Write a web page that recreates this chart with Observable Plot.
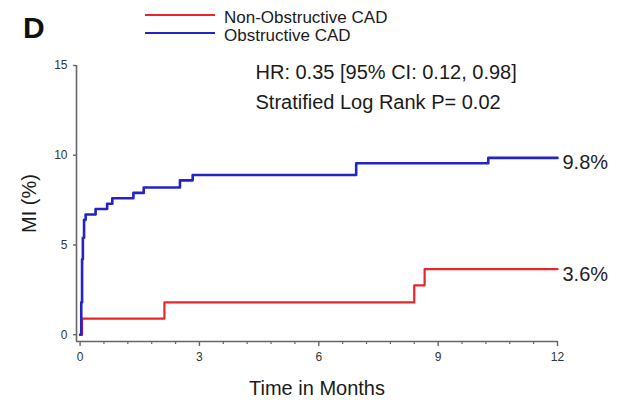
<!DOCTYPE html>
<html><head><meta charset="utf-8">
<script src="https://cdn.jsdelivr.net/npm/d3@7"></script>
<script src="https://cdn.jsdelivr.net/npm/@observablehq/plot@0.6"></script>
<style>
body{margin:0;background:#fff;font-family:"Liberation Sans",Arial,sans-serif;}
#wrap{position:relative;width:617px;height:400px;overflow:hidden;background:#fff;}
#wrap svg{position:absolute;left:0;top:0;}
.ov{position:absolute;white-space:nowrap;color:#1a1a1a;}
.sw{position:absolute;height:0;}
</style></head><body><div id="wrap"></div>
<script>
// Series names and colours
const seriesNames = ["Non-Obstructive CAD", "Obstructive CAD"];
const seriesColors = ["#e8262a", "#2323c8"];

// Obstructive CAD cumulative MI (%) by month
const obstructiveTime  = [0, 0.03, 0.05, 0.07, 0.10, 0.14, 0.39, 0.68, 0.81, 1.34, 1.60, 2.51, 2.83, 6.94, 10.26, 12];
const obstructiveValue = [0, 1.8,  4.2,  5.4,  6.4,  6.7,  7.0,  7.3,  7.6,  7.9,  8.2,  8.6,  8.9,  9.55, 9.85, 9.85];

// Non-obstructive CAD cumulative MI (%) by month
const nonObstructiveTime  = [0, 0.05, 2.12, 8.40, 8.66, 12];
const nonObstructiveValue = [0, 0.9,  1.8,  2.75, 3.65, 3.65];

// End labels
const endLabels = ["3.6%", "9.8%"];

// Axis ticks
const xMajorTicks = [0, 3, 6, 9, 12];
const xMinorTicks = [0.6, 1.2, 1.8, 2.4, 3.6, 4.2, 4.8, 5.4, 6.6, 7.2, 7.8, 8.4, 9.6, 10.2, 10.8, 11.4];
const yTicks = [0, 5, 10, 15];

// Text
const panelLetter = "D";
const hrText = "HR: 0.35 [95% CI: 0.12, 0.98]";
const pText = "Stratified Log Rank P= 0.02";
const xLabel = "Time in Months";
const yLabel = "MI (%)";

const xDomain = [-0.09, 12];
const yDomain = [-0.38, 15];

const rows = [];
nonObstructiveTime.forEach((t, i) => rows.push({series: seriesNames[0], t, v: nonObstructiveValue[i]}));
obstructiveTime.forEach((t, i) => rows.push({series: seriesNames[1], t, v: obstructiveValue[i]}));

const ends = [
  {series: seriesNames[0], t: nonObstructiveTime[nonObstructiveTime.length - 1], v: nonObstructiveValue[nonObstructiveValue.length - 1], label: endLabels[0]},
  {series: seriesNames[1], t: obstructiveTime[obstructiveTime.length - 1], v: obstructiveValue[obstructiveValue.length - 1], label: endLabels[1]}
];

const axisColor = "#666";
const font = "'Liberation Sans', Arial, sans-serif";

const chart = Plot.plot({
  width: 617,
  height: 400,
  marginLeft: 76,
  marginRight: 60,
  marginTop: 65,
  marginBottom: 59,
  style: {fontFamily: font, fontSize: "12px", color: "#333", background: "transparent"},
  x: {domain: xDomain, axis: null},
  y: {domain: yDomain, axis: null},
  color: {domain: seriesNames, range: seriesColors},
  marks: [
    Plot.ruleY([yDomain[0]], {stroke: axisColor, strokeWidth: 1.6}),
    Plot.ruleX([xDomain[0]], {stroke: axisColor, strokeWidth: 1.6}),
    Plot.axisX({ticks: xMajorTicks, tickSize: 5, tickPadding: 6, stroke: axisColor, strokeWidth: 1.4, fill: "#333", fontSize: 12,
      label: xLabel, labelAnchor: "center", labelArrow: "none", labelOffset: 53}),
    Plot.axisX({ticks: xMinorTicks, tickSize: 3, tickFormat: () => "", stroke: axisColor, strokeWidth: 1.2, label: null}),
    Plot.axisY({ticks: yTicks, tickSize: 3, tickPadding: 6, stroke: axisColor, strokeWidth: 1.4, fill: "#333", fontSize: 12,
      label: yLabel, labelAnchor: "center", labelArrow: "none", labelOffset: 55}),
    Plot.line(rows.filter(d => d.series === seriesNames[0]), {x: "t", y: "v", stroke: "series", curve: "step-after", strokeWidth: 2.2}),
    Plot.line(rows.filter(d => d.series === seriesNames[1]), {x: "t", y: "v", stroke: "series", curve: "step-after", strokeWidth: 2.6}),
    Plot.text(ends, {x: "t", y: "v", text: "label", textAnchor: "start", dx: 5, dy: 5, fontSize: 20, fill: "#222"}),
    Plot.text([hrText], {frameAnchor: "top-left", text: d => d, dx: 179, dy: 7, lineAnchor: "middle", fontSize: 20, fill: "#1a1a1a"}),
    Plot.text([pText], {frameAnchor: "top-left", text: d => d, dx: 179, dy: 37, lineAnchor: "middle", fontSize: 20, fill: "#1a1a1a"})
  ]
});

// Style axis labels
chart.querySelectorAll("[aria-label='x-axis label'] text, [aria-label='y-axis label'] text").forEach(t => {
  t.setAttribute("font-size", 20);
  t.setAttribute("fill", "#1a1a1a");
});

const wrap = document.getElementById("wrap");
wrap.appendChild(chart);

// Panel letter
const letter = document.createElement("div");
letter.className = "ov";
letter.textContent = panelLetter;
letter.style.cssText += "left:23px;top:13px;font-size:30px;font-weight:bold;line-height:30px;color:#111;";
wrap.appendChild(letter);

// Legend
seriesNames.forEach((name, i) => {
  const sw = document.createElement("div");
  sw.className = "sw";
  sw.style.cssText += `left:145px;width:70px;top:${15 + i * 18 - 1}px;border-top:${i ? 2.5 : 2}px solid ${seriesColors[i]};`;
  wrap.appendChild(sw);
  const tx = document.createElement("div");
  tx.className = "ov";
  tx.textContent = name;
  tx.style.cssText += `left:224px;top:${9.4 + i * 18}px;font-size:17px;line-height:18px;`;
  wrap.appendChild(tx);
});
</script>
</body></html>
